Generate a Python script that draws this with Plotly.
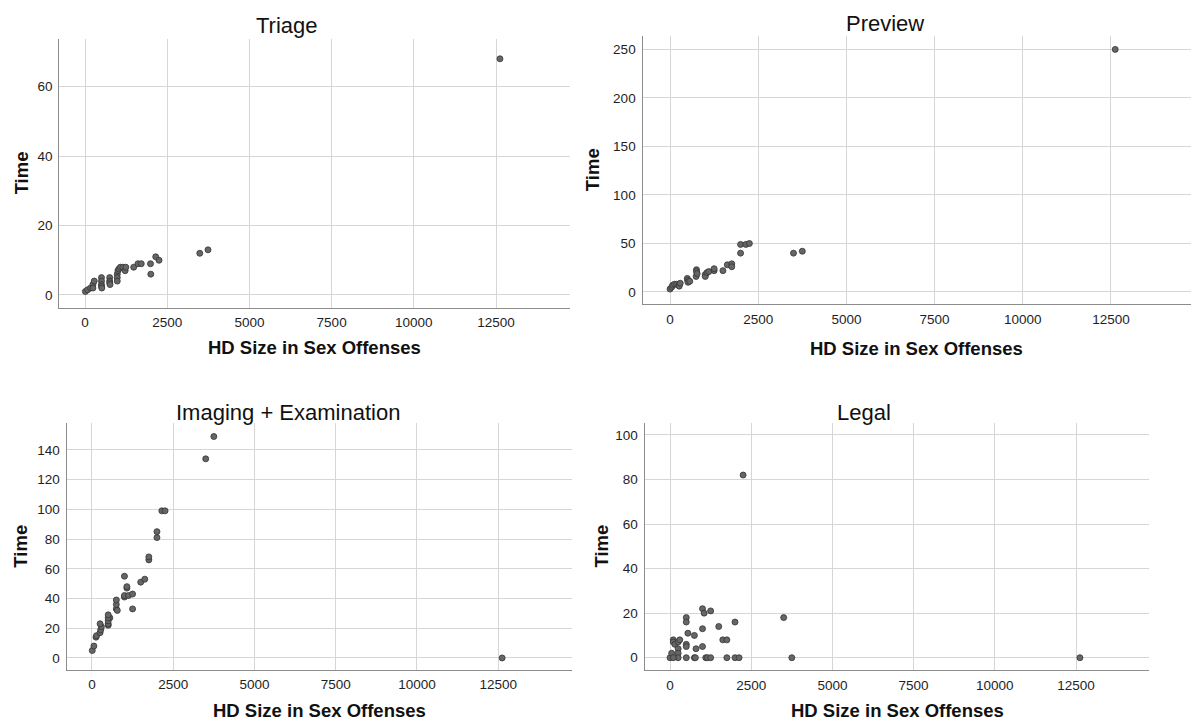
import plotly.graph_objects as go

# ---- data: hard-disk size (GB) vs. time spent per forensic phase ----
triage_size = [10, 80, 170, 240, 240, 280, 500, 500, 500, 500, 510, 750, 750, 750, 760,
               980, 980, 980, 1000, 1030, 1075, 1150, 1220, 1240, 1480, 1610, 1710, 1990,
               2000, 2150, 2250, 3490, 3740, 12620]
triage_time = [1, 1.5, 2, 3, 2, 4, 5, 4, 3, 2.5, 2, 5, 4, 3.5, 3,
               6, 5, 4, 7, 7.5, 8, 8, 7, 8, 8, 9, 9, 9,
               6, 11, 10, 12, 13, 68]

preview_size = [0, 50, 75, 130, 190, 250, 260, 290, 490, 500, 510, 560, 750, 750, 740, 770,
                1000, 1000, 1050, 1100, 1250, 1250, 1500, 1625, 1750, 1750, 2000, 2000,
                2150, 2250, 3500, 3750, 12620]
preview_time = [3, 5, 7, 8, 8, 7, 6, 9, 14, 12, 10, 11, 23, 21, 16, 19,
                18, 16, 20, 21, 22, 24, 22, 28, 29, 26, 40, 49,
                49, 50, 40, 42, 250]

imaging_size = [10, 60, 125, 140, 250, 270, 290, 250, 500, 500, 550, 500, 500, 500,
                750, 750, 750, 780, 1000, 1000, 1000, 1075, 1075, 1125, 1250, 1250,
                1500, 1625, 1750, 1750, 2000, 2000, 2150, 2250, 3500, 3750, 12620]
imaging_time = [5, 8, 14, 15, 17, 19, 21, 23, 22, 23, 27, 25, 27, 29,
                33, 36, 39, 32, 41, 42, 55, 47, 48, 42, 43, 33,
                51, 53, 66, 68, 81, 85, 99, 99, 134, 149, 0]

legal_size = [0, 50, 100, 100, 150, 250, 300, 250, 250, 250, 100, 500, 500, 500, 500, 500,
              550, 750, 800, 750, 780, 1000, 1000, 1000, 1050, 1250, 1100, 1150, 1250,
              1500, 1625, 1750, 1750, 2000, 2000, 2125, 2250, 3500, 3750, 12620]
legal_time = [0, 2, 8, 7, 6, 7, 8, 4, 2, 0, 0, 18, 16, 6, 5, 0,
              11, 10, 4, 0, 0, 22, 13, 5, 20, 21, 0, 0, 0,
              14, 8, 8, 0, 16, 0, 0, 82, 18, 0, 0]

panel_titles = ["Triage", "Preview", "Imaging + Examination", "Legal"]
x_ticks = [0, 2500, 5000, 7500, 10000, 12500]
y_ticks = [
    [0, 20, 40, 60],
    [0, 50, 100, 150, 200, 250],
    [0, 20, 40, 60, 80, 100, 120, 140],
    [0, 20, 40, 60, 80, 100],
]
y_ranges = [[-3.66, 73.7], [-12.7, 263.8], [-8.1, 157.9], [-5.66, 105.5]]
x_range = [-780, 14760]
x_title = "HD Size in Sex Offenses"
y_title = "Time"

# ---- layout geometry (pixels) ----
W, H = 1196, 722
boxes = [  # left, right, top, bottom of each plotting area
    (59.4, 570.3, 39.0, 307.7),
    (642.5, 1190.7, 36.0, 304.3),
    (66.6, 571.7, 423.3, 670.0),
    (644.7, 1149.4, 422.7, 670.3),
]
title_pos = [(287, 25), (885, 23), (288, 412), (864, 412)]
xtitle_y = [347, 348, 710, 710]
ytitle_x = [21, 592, 21, 601]

FONT = "Liberation Sans, Arial, sans-serif"
GRID = "#d6d6d6"
AXIS = "#8c8c8c"

series = [
    (triage_size, triage_time),
    (preview_size, preview_time),
    (imaging_size, imaging_time),
    (legal_size, legal_time),
]

fig = go.Figure()
annotations = []


def px(x):
    return x / W


def py(y):
    return 1 - y / H


for i, ((xs, ys), (l, r, t, b)) in enumerate(zip(series, boxes)):
    sfx = "" if i == 0 else str(i + 1)
    fig.add_trace(go.Scatter(
        x=xs, y=ys, mode="markers",
        xaxis="x" + sfx, yaxis="y" + sfx,
        marker=dict(size=6, color="#666666",
                    line=dict(color="#333333", width=0.8)),
        showlegend=False, hoverinfo="x+y",
    ))
    common = dict(showgrid=True, gridcolor=GRID, gridwidth=1.2,
                  zeroline=False, showline=True, linecolor=AXIS, linewidth=1.3,
                  ticks="", tickfont=dict(family=FONT, size=13.5, color="#1e1e1e"),
                  fixedrange=True)
    fig.update_layout(**{
        "xaxis" + sfx: dict(domain=[px(l), px(r)], range=x_range,
                            tickvals=x_ticks, ticktext=[str(v) for v in x_ticks],
                            anchor="y" + sfx, ticklabelstandoff=2, **common),
        "yaxis" + sfx: dict(domain=[py(b), py(t)], range=y_ranges[i],
                            tickvals=y_ticks[i], ticktext=[str(v) for v in y_ticks[i]],
                            anchor="x" + sfx, ticklabelstandoff=3, **common),
    })
    tx, ty = title_pos[i]
    annotations.append(dict(text=panel_titles[i], x=px(tx), y=py(ty),
                            xref="paper", yref="paper", showarrow=False,
                            xanchor="center", yanchor="middle",
                            font=dict(family=FONT, size=22, color="#111111")))
    annotations.append(dict(text="<b>%s</b>" % x_title, x=px((l + r) / 2), y=py(xtitle_y[i]),
                            xref="paper", yref="paper", showarrow=False,
                            xanchor="center", yanchor="middle",
                            font=dict(family=FONT, size=18.5, color="#111111")))
    annotations.append(dict(text="<b>%s</b>" % y_title, x=px(ytitle_x[i]), y=py((t + b) / 2),
                            xref="paper", yref="paper", showarrow=False, textangle=-90,
                            xanchor="center", yanchor="middle",
                            font=dict(family=FONT, size=18.5, color="#111111")))

fig.update_layout(
    width=W, height=H,
    margin=dict(l=0, r=0, t=0, b=0),
    paper_bgcolor="white", plot_bgcolor="white",
    annotations=annotations,
)

fig.write_html("out.html")
